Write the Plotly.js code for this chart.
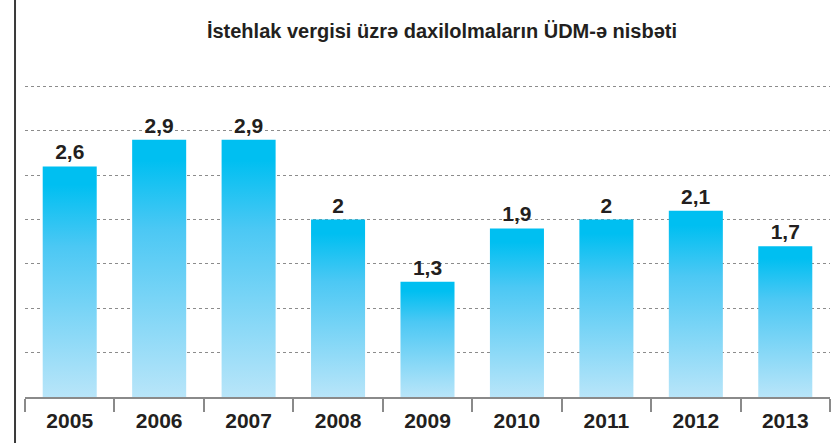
<!DOCTYPE html>
<html>
<head>
<meta charset="utf-8">
<script src="https://cdn.plot.ly/plotly-3.0.1.min.js"></script>
<style>
html,body{margin:0;padding:0;background:#fff;}
#chart{width:836px;height:443px;}
</style>
</head>
<body>
<div id="chart"></div>
<script>
const years = ["2005","2006","2007","2008","2009","2010","2011","2012","2013"];
const values = [2.6, 2.9, 2.9, 2.0, 1.3, 1.9, 2.0, 2.1, 1.7];
const titleText = "İstehlak vergisi üzrə daxilolmaların ÜDM-ə nisbəti";

const FONT = "Liberation Sans, Arial, sans-serif";

const trace = {
  type: "bar",
  x: years,
  y: values,
  marker: {color: "#00bff1", line: {width: 0}},
  text: values.map(v => String(v).replace(".", ",")),
  textposition: "outside",
  constraintext: "none",
  textfont: {family: FONT, size: 21, color: "#231f20", weight: "bold"},
  cliponaxis: false,
  hoverinfo: "none"
};

const layout = {
  width: 836, height: 443,
  margin: {l: 25, r: 6, t: 44, b: 46, pad: 0},
  paper_bgcolor: "#ffffff",
  plot_bgcolor: "#ffffff",
  showlegend: false,
  bargap: 0.396,
  title: {
    text: titleText,
    font: {family: FONT, size: 20, color: "#231f20", weight: "bold"},
    x: 0.518, xanchor: "center", y: 0.93, yanchor: "middle", xref: "paper", yref: "container"
  },
  xaxis: {
    type: "category",
    showline: true, linecolor: "#8a8a8a", linewidth: 2,
    ticks: "outside", tickson: "boundaries", ticklen: 13, tickwidth: 2, tickcolor: "#8a8a8a",
    ticklabelstandoff: 4,
    tickfont: {family: FONT, size: 21, color: "#231f20", weight: "bold"},
    showgrid: false, zeroline: false, fixedrange: true
  },
  yaxis: {
    range: [0, 3.98], dtick: 0.5, tick0: 0,
    showticklabels: false, ticks: "",
    showgrid: true, gridcolor: "#8c8c8c", gridwidth: 1, griddash: "dot",
    zeroline: false, showline: false, fixedrange: true
  },
  shapes: [{
    type: "line", xref: "paper", yref: "paper",
    x0: -0.0124, x1: -0.0124, y0: -0.2, y1: 1.2,
    line: {color: "#3a3a3a", width: 2}
  }]
};

Plotly.newPlot("chart", [trace], layout, {displayModeBar: false, staticPlot: true}).then(function(gd){
  const svg = gd.querySelector("svg.main-svg");
  const ns = "http://www.w3.org/2000/svg";
  let defs = svg.querySelector("defs");
  if (!defs) { defs = document.createElementNS(ns, "defs"); svg.insertBefore(defs, svg.firstChild); }
  const lg = document.createElementNS(ns, "linearGradient");
  lg.setAttribute("id", "barGrad");
  lg.setAttribute("x1", "0"); lg.setAttribute("y1", "0");
  lg.setAttribute("x2", "0"); lg.setAttribute("y2", "1");
  [["0", "#00bff1"], ["0.08", "#00bff1"], ["0.35", "#4cc8f4"], ["1", "#b8e5f9"]].forEach(function(s){
    const st = document.createElementNS(ns, "stop");
    st.setAttribute("offset", s[0]);
    st.setAttribute("stop-color", s[1]);
    lg.appendChild(st);
  });
  defs.appendChild(lg);
  gd.querySelectorAll(".barlayer .point path").forEach(function(p){
    p.style.fill = "url(#barGrad)";
  });
});
</script>
</body>
</html>
